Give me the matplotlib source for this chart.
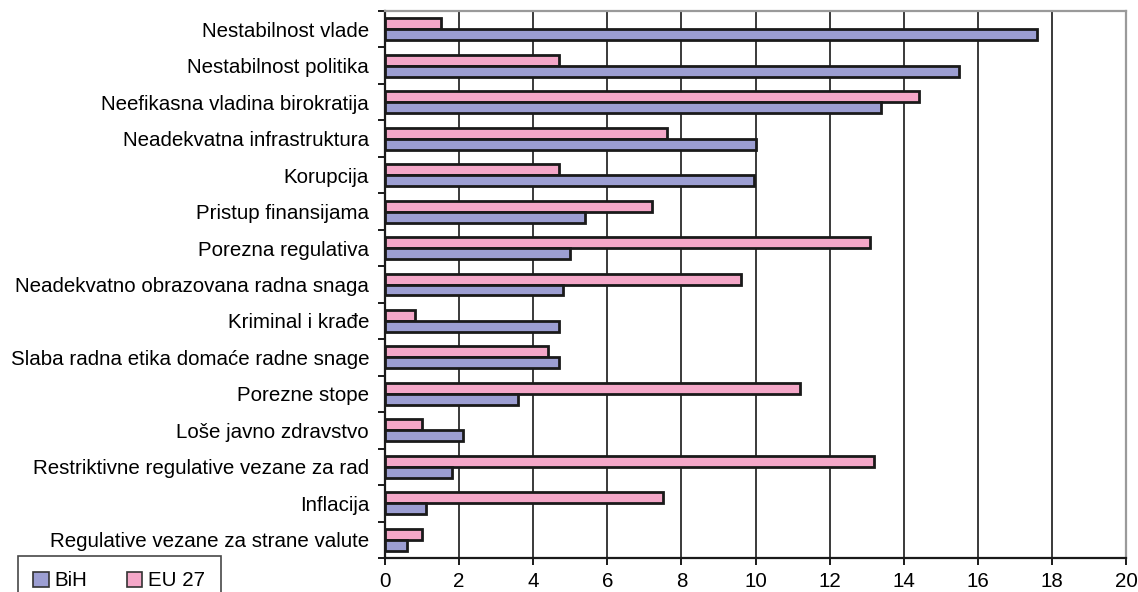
import matplotlib
matplotlib.use("Agg")
import matplotlib.pyplot as plt
from matplotlib.patches import Patch
import numpy as np

plt.rcParams['font.family'] = ['Liberation Sans', 'DejaVu Sans']

categories = [
    "Nestabilnost vlade",
    "Nestabilnost politika",
    "Neefikasna vladina birokratija",
    "Neadekvatna infrastruktura",
    "Korupcija",
    "Pristup finansijama",
    "Porezna regulativa",
    "Neadekvatno obrazovana radna snaga",
    "Kriminal i krađe",
    "Slaba radna etika domaće radne snage",
    "Porezne stope",
    "Loše javno zdravstvo",
    "Restriktivne regulative vezane za rad",
    "Inflacija",
    "Regulative vezane za strane valute",
]
bih = [17.6, 15.5, 13.4, 10.0, 9.95, 5.4, 5.0, 4.8, 4.7, 4.7, 3.6, 2.1, 1.8, 1.1, 0.6]
eu27 = [1.5, 4.7, 14.4, 7.6, 4.7, 7.2, 13.1, 9.6, 0.8, 4.4, 11.2, 1.0, 13.2, 7.5, 1.0]
xticks = [0, 2, 4, 6, 8, 10, 12, 14, 16, 18, 20]

c_bih = '#9c9ed2'
c_eu = '#f4a7c8'
FS = 14.75

fig = plt.figure(figsize=(11.38, 5.92), dpi=100)
ax = fig.add_axes([385/1138, 1-558/592, (1126-385)/1138, (558-11)/592])

y = np.arange(len(categories))
h = 0.30
ax.barh(y - h/2, eu27, height=h, color=c_eu, edgecolor='#1a1a1a', linewidth=2.0, zorder=3, label='EU 27')
ax.barh(y + h/2, bih, height=h, color=c_bih, edgecolor='#1a1a1a', linewidth=2.0, zorder=3, label='BiH')

ax.set_ylim(len(categories) - 0.5, -0.5)
ax.set_xlim(0, 20)
ax.set_xticks(xticks)
ax.set_xticklabels([str(t) for t in xticks], fontsize=FS)
ax.set_yticks(y)
ax.set_yticklabels(categories, fontsize=FS)
ax.tick_params(axis='y', which='major', length=0, pad=11.5)
ax.set_yticks(np.arange(len(categories) + 1) - 0.5, minor=True)
ax.tick_params(axis='y', which='minor', length=5, width=1.4, color='#1a1a1a', direction='out')
ax.tick_params(axis='x', which='major', length=5, width=1.4, color='#1a1a1a', direction='out', pad=5)

ax.grid(axis='x', color='#3a3a3a', linewidth=1.4, zorder=0)
ax.spines['left'].set_color('#1a1a1a')
ax.spines['left'].set_linewidth(1.6)
ax.spines['bottom'].set_color('#1a1a1a')
ax.spines['bottom'].set_linewidth(1.6)
ax.spines['top'].set_color('#9a9a9a')
ax.spines['top'].set_linewidth(1.6)
ax.spines['right'].set_color('#9a9a9a')
ax.spines['right'].set_linewidth(1.6)

handles = [Patch(facecolor=c_bih, edgecolor='#333333', linewidth=1.2, label='BiH'),
           Patch(facecolor=c_eu, edgecolor='#333333', linewidth=1.2, label='EU 27')]
leg = fig.legend(handles=handles, loc='upper left', bbox_to_anchor=(18/1138, 1-556/592),
                 ncol=2, fontsize=FS, frameon=True, fancybox=False, borderpad=0.75,
                 handlelength=0.75, handleheight=0.75, handletextpad=0.3, columnspacing=1.9,
                 borderaxespad=0)
leg.get_frame().set_edgecolor('#1a1a1a')
leg.get_frame().set_linewidth(1.2)

fig.savefig('out.png', dpi=100)
